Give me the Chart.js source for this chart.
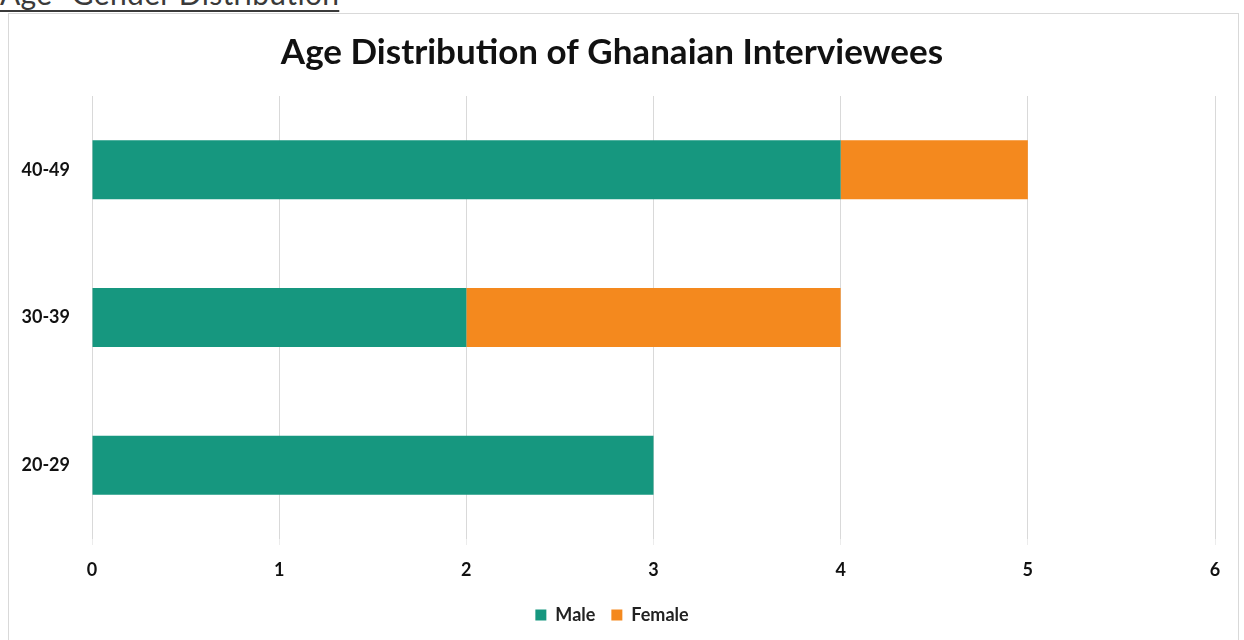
<!DOCTYPE html>
<html>
<head>
<meta charset="utf-8">
<script src="https://cdn.jsdelivr.net/npm/chart.js@4.4.1/dist/chart.umd.min.js"></script>
<style>
  html, body { margin: 0; padding: 0; background: #ffffff; width: 1244px; height: 640px; overflow: hidden; }
  #heading {
    position: absolute; left: 0; top: -25px;
    font-family: "Lato", "Open Sans", sans-serif; font-size: 30px; color: #3a3a3a;
    text-decoration: underline; text-underline-offset: 5px; text-decoration-thickness: 2px;
    white-space: nowrap; letter-spacing: 0.3px;
  }
  #frame {
    position: absolute; left: 8px; top: 13px; width: 1231px; height: 640px;
    border: 1px solid #d9d9d9; box-sizing: border-box; background: #fff;
  }
  #wrap { position: absolute; left: 0; top: 0; width: 1229px; height: 626px; }
</style>
</head>
<body>
<div id="heading">Age- Gender Distribution</div>
<div id="frame"><div id="wrap"><canvas id="c"></canvas></div></div>
<script>
const ageGroups = ["40-49", "30-39", "20-29"];
const maleCounts = [4, 2, 3];
const femaleCounts = [1, 2, 0];
const xTicks = [0, 1, 2, 3, 4, 5, 6];

const FONT = "Lato, 'Open Sans', sans-serif";

new Chart(document.getElementById("c"), {
  type: "bar",
  data: {
    labels: ageGroups,
    datasets: [
      { label: "Male", data: maleCounts, backgroundColor: "#16977f" },
      { label: "Female", data: femaleCounts, backgroundColor: "#f4891e" }
    ]
  },
  options: {
    indexAxis: "y",
    responsive: true,
    maintainAspectRatio: false,
    animation: false,
    barPercentage: 0.4,
    categoryPercentage: 1.0,
    layout: { padding: { left: 0, right: 23, top: 0, bottom: 6 } },
    plugins: {
      title: {
        display: true,
        text: "Age Distribution of Ghanaian Interviewees",
        color: "#111111",
        font: { family: FONT, size: 35, weight: "bold" },
        padding: { top: 18, bottom: 22 }
      },
      legend: {
        position: "bottom",
        labels: {
          color: "#222222",
          font: { family: FONT, size: 18, weight: "bold" },
          boxWidth: 11, boxHeight: 11, padding: 16
        }
      },
      tooltip: { enabled: false }
    },
    scales: {
      x: {
        stacked: true,
        min: 0, max: 6,
        afterBuildTicks: (s) => { s.ticks = xTicks.map(v => ({ value: v })); },
        grid: { color: "#d9d9d9", drawTicks: true, tickLength: 6, tickColor: "#ececec" },
        border: { display: false },
        ticks: {
          color: "#111111", padding: 14,
          font: { family: FONT, size: 18, weight: "bold" }
        },
        afterFit: (s) => { s.height = 51; }
      },
      y: {
        stacked: true,
        grid: { display: false },
        border: { display: false },
        ticks: {
          color: "#111111", padding: 14,
          font: { family: FONT, size: 18, weight: "bold" }
        },
        afterFit: (s) => { s.width = 83; }
      }
    }
  }
});
</script>
</body>
</html>
